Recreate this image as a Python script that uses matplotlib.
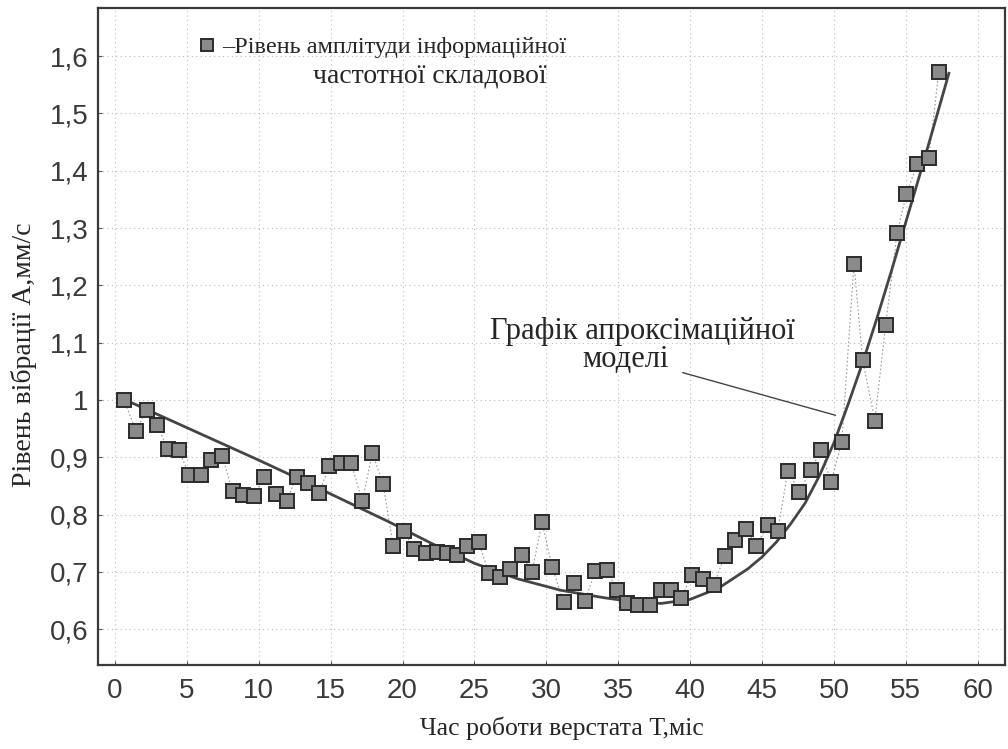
import matplotlib
matplotlib.use("Agg")
import matplotlib.pyplot as plt
from matplotlib.lines import Line2D
from matplotlib.ticker import FuncFormatter
import numpy as np

# measured points (time in months, vibration level mm/s)
t_months = [0.63, 1.46, 2.20, 2.94, 3.66, 4.45, 5.17, 5.98, 6.68, 7.46,
            8.18, 8.92, 9.67, 10.38, 11.18, 11.94, 12.64, 13.44, 14.19, 14.90,
            15.70, 16.43, 17.20, 17.90, 18.64, 19.35, 20.1, 20.8, 21.6, 22.4,
            23.07, 23.8, 24.5, 25.3, 26.0, 26.8, 27.5, 28.3, 29.0, 29.7,
            30.4, 31.2, 31.9, 32.7, 33.4, 34.2, 34.9, 35.6, 36.4, 37.2,
            38.0, 38.7, 39.4, 40.1, 40.9, 41.65, 42.4, 43.1, 43.9, 44.6,
            45.4, 46.1, 46.8, 47.6, 48.4, 49.1, 49.8, 50.55, 51.4, 52.0,
            52.85, 53.6, 54.4, 55.05, 55.8, 56.6, 57.3]
amplitude = [1.000, 0.946, 0.982, 0.957, 0.914, 0.912, 0.869, 0.869, 0.895, 0.902,
             0.841, 0.834, 0.833, 0.866, 0.836, 0.824, 0.866, 0.855, 0.837, 0.884,
             0.890, 0.890, 0.823, 0.907, 0.854, 0.746, 0.771, 0.740, 0.733, 0.735,
             0.733, 0.729, 0.745, 0.752, 0.698, 0.691, 0.705, 0.730, 0.699, 0.787,
             0.709, 0.648, 0.681, 0.650, 0.702, 0.703, 0.669, 0.645, 0.643, 0.642,
             0.669, 0.669, 0.655, 0.694, 0.688, 0.677, 0.728, 0.756, 0.775, 0.746,
             0.781, 0.772, 0.876, 0.840, 0.878, 0.913, 0.857, 0.926, 1.237, 1.070,
             0.964, 1.131, 1.292, 1.360, 1.412, 1.422, 1.573]

# approximation model curve
model_t = [1, 4, 7, 10, 13, 16, 19, 22, 25, 28, 31, 34, 36, 38, 40, 42,
           44, 45, 46, 47, 48, 49, 50, 51, 52, 53, 54, 55, 56, 57, 58]
model_a = [0.997, 0.963, 0.929, 0.895, 0.860, 0.824, 0.788, 0.750, 0.715, 0.688,
           0.668, 0.655, 0.648, 0.645, 0.652, 0.672, 0.705, 0.726, 0.752, 0.784,
           0.820, 0.868, 0.925, 0.993, 1.065, 1.143, 1.225, 1.310, 1.395, 1.482,
           1.570]

x_ticks = list(range(0, 61, 5))
y_ticks = [0.6, 0.7, 0.8, 0.9, 1.0, 1.1, 1.2, 1.3, 1.4, 1.5, 1.6]

serif = ["Liberation Serif", "DejaVu Serif"]
text_col = "#262626"

fig = plt.figure(figsize=(10.08, 7.49), dpi=100)
ax = fig.add_axes([0.0972, 0.1121, 0.8998, 0.8773])

ax.plot(t_months, amplitude, color="#9a9a9a", lw=0.8, ls=(0, (1.5, 2)), zorder=2)
ax.plot(model_t, model_a, color="#454545", lw=2.0, zorder=3)
ax.plot(t_months, amplitude, ls="none", marker="s", ms=10,
        mfc="#8a8a8a", mec="#2b2b2b", mew=1.4, zorder=4)

ax.set_xlim(-1.18, 61.9)
ax.set_ylim(0.5375, 1.684)
ax.set_xticks(x_ticks)
ax.set_yticks(y_ticks)
ax.yaxis.set_major_formatter(FuncFormatter(lambda v, p: ("%g" % round(v, 2)).replace(".", ",")))
ax.tick_params(labelsize=20, labelcolor="#3a3a3a", length=3, direction="in",
               color="#555555")
ax.tick_params(axis="x", pad=9)
ax.tick_params(axis="y", pad=7)
for lab in ax.get_xticklabels() + ax.get_yticklabels():
    lab.set_fontfamily("Liberation Sans")

ax.grid(True, color="#bdbdbd", lw=0.8, ls=(0, (1, 3)))
for s in ax.spines.values():
    s.set_color("#3a3a3a")
    s.set_linewidth(1.6)

ax.set_xlabel("Час роботи верстата Т,міс", family=serif, fontsize=18.5,
              color=text_col)
ax.set_ylabel("Рівень вібрації А,мм/с", family=serif, fontsize=20,
              color=text_col)
ax.xaxis.set_label_coords(0.512, -0.078)
ax.yaxis.set_label_coords(-0.067, 0.472)

# legend (marker + first line), second line as text
handle = Line2D([], [], ls="none", marker="s", ms=8, mfc="#8a8a8a",
                mec="#2b2b2b", mew=1.4)
leg = ax.legend([handle], ["–Рівень амплітуди інформаційної"], loc="upper left",
                bbox_to_anchor=(0.091, 0.983), frameon=False, handlelength=0.8,
                handletextpad=0.2, borderpad=0.2,
                prop={"family": serif, "size": 17.5})
for t in leg.get_texts():
    t.set_color(text_col)
ax.text(0.366, 0.895, "частотної складової", transform=ax.transAxes,
        ha="center", va="center", family=serif, fontsize=20, color=text_col)

# annotation for the model curve
ax.annotate("", xy=(50.3, 0.972), xytext=(39.3, 1.049),
            arrowprops=dict(arrowstyle="-", color="#444444", lw=1.0))
ax.text(26.1, 1.119, "Графік апроксімаційної", ha="left", va="center",
        family=serif, fontsize=22, color=text_col)
ax.text(35.5, 1.071, "моделі", ha="center", va="center",
        family=serif, fontsize=22, color=text_col)

fig.savefig("out.png", dpi=100)
